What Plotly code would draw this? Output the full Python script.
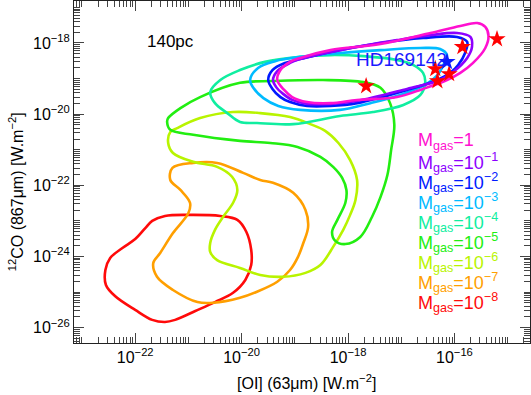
import plotly.graph_objects as go

# log10 of line fluxes [W m^-2] along each contour (x = [OI] 63um, y = 12CO 867um)
oi_m0 = [-19.33, -19.27, -19.09, -18.90, -18.33, -17.39, -16.45, -15.89, -15.57, -15.42, -15.36, -15.42,
         -15.65, -15.89, -16.14, -16.59, -17.08, -17.83, -18.33, -18.77, -19.05, -19.20]
co_m0 = [-19.04, -18.76, -18.53, -18.42, -18.20, -18.03, -17.72, -17.52, -17.44, -17.55, -17.80, -18.14,
         -18.56, -18.84, -19.04, -19.29, -19.52, -19.60, -19.69, -19.66, -19.52, -19.32]

oi_m1 = [-19.41, -19.33, -19.09, -18.90, -18.15, -17.08, -16.45, -15.95, -15.70, -15.67, -15.76, -16.02,
         -16.27, -16.89, -17.83, -18.33, -18.77, -19.05, -19.22, -19.35]
co_m1 = [-19.04, -18.79, -18.56, -18.45, -18.20, -17.92, -17.78, -17.72, -17.83, -18.11, -18.42, -18.81,
         -19.04, -19.29, -19.63, -19.71, -19.71, -19.60, -19.43, -19.24]

oi_m2 = [-19.50, -19.42, -19.18, -18.90, -18.33, -17.39, -16.59, -15.95, -15.76, -15.80, -15.93, -16.08,
         -16.32, -16.89, -17.83, -18.33, -18.77, -19.09, -19.27, -19.42]
co_m2 = [-19.04, -18.76, -18.56, -18.45, -18.25, -18.00, -17.86, -17.83, -17.97, -18.28, -18.62, -18.84,
         -19.04, -19.32, -19.69, -19.77, -19.77, -19.66, -19.52, -19.29]

oi_m3 = [-19.84, -19.69, -19.37, -18.90, -18.15, -17.39, -16.64, -16.27, -16.14, -16.21, -16.32, -16.55,
         -17.02, -17.58, -18.15, -18.90, -19.31, -19.59, -19.78]
co_m3 = [-19.04, -18.70, -18.51, -18.39, -18.28, -18.20, -18.14, -18.17, -18.34, -18.62, -18.90, -19.18,
         -19.46, -19.69, -19.88, -19.88, -19.77, -19.55, -19.26]

oi_m4 = [-20.59, -20.40, -20.03, -19.56, -18.90, -18.33, -17.71, -17.08, -16.77, -16.59, -16.55, -16.64,
         -16.96, -17.53, -18.15, -19.03, -19.71, -20.03, -20.27, -20.50]
co_m4 = [-19.38, -19.04, -18.76, -18.53, -18.39, -18.34, -18.37, -18.48, -18.62, -18.84, -19.12, -19.46,
         -19.74, -19.94, -20.05, -20.28, -20.25, -20.22, -19.97, -19.69]

oi_m5 = [-21.40, -21.34, -20.91, -20.03, -19.46, -18.95, -18.52, -18.28, -18.11, -18.03, -18.05, -18.20,
         -18.30, -18.24, -18.05, -17.77, -17.55, -17.39, -17.26, -17.19, -17.13, -17.21, -17.39, -17.71,
         -18.47, -19.41, -20.03, -20.78, -21.15, -21.38]
co_m5 = [-20.22, -20.44, -20.58, -20.75, -20.81, -20.92, -21.20, -21.48, -21.79, -22.13, -22.49, -22.97,
         -23.31, -23.56, -23.65, -23.45, -22.89, -22.33, -21.71, -21.01, -20.30, -19.69, -19.26, -19.10,
         -19.04, -19.07, -19.12, -19.52, -19.83, -20.11]

oi_m6 = [-21.34, -21.21, -20.78, -20.16, -19.65, -19.09, -18.71, -18.43, -18.18, -17.96, -17.83, -17.86,
         -17.96, -18.09, -18.28, -18.52, -18.80, -19.22, -19.65, -20.03, -20.46, -20.59, -20.59, -20.50,
         -20.35, -20.16, -20.08, -20.18, -20.46, -20.91, -21.29, -21.38]
co_m6 = [-20.50, -20.39, -20.11, -19.94, -19.97, -20.08, -20.28, -20.47, -20.81, -21.29, -21.85, -22.41,
         -22.83, -23.25, -23.73, -24.24, -24.46, -24.57, -24.52, -24.32, -24.10, -23.87, -23.62, -23.25,
         -22.89, -22.49, -22.13, -21.76, -21.48, -21.34, -21.09, -20.81]

oi_m7 = [-21.34, -21.30, -20.91, -20.46, -19.97, -19.65, -19.41, -19.03, -18.80, -18.75, -18.84, -18.94,
         -19.09, -19.33, -19.71, -20.03, -20.53, -20.83, -21.29, -21.59, -21.66, -21.53, -21.29, -21.00,
         -20.97, -21.15]
co_m7 = [-21.85, -21.51, -21.37, -21.37, -21.65, -21.85, -21.93, -22.21, -22.69, -23.17, -23.62, -24.01,
         -24.38, -24.71, -24.99, -25.16, -25.30, -25.28, -24.94, -24.57, -24.18, -23.90, -23.34, -22.78,
         -22.49, -22.13]

oi_m8 = [-21.68, -21.44, -20.97, -20.40, -20.08, -19.91, -19.82, -19.82, -19.93, -20.16, -20.50, -20.87,
         -21.25, -21.44, -21.68, -22.00, -22.38, -22.55, -22.56, -22.47, -22.24, -22.00, -21.81]
co_m8 = [-23.00, -22.86, -22.83, -22.86, -22.97, -23.31, -23.81, -24.24, -24.66, -25.02, -25.28, -25.53,
         -25.78, -25.84, -25.78, -25.50, -25.11, -24.80, -24.38, -24.04, -23.76, -23.51, -23.20]

# model points (red stars) and the observed source (blue star)
star_oi = [-15.20, -15.85, -16.36, -16.10, -16.32, -17.66]
star_co = [-17.89, -18.11, -18.73, -18.87, -19.07, -19.21]
hd_oi = [-16.14]
hd_co = [-18.53]

mgas_labels = ["1", "10<sup>−1</sup>", "10<sup>−2</sup>", "10<sup>−3</sup>", "10<sup>−4</sup>",
               "10<sup>−5</sup>", "10<sup>−6</sup>", "10<sup>−7</sup>", "10<sup>−8</sup>"]
colors = ["#ff10d0", "#8c00ff", "#0019ff", "#00bbff", "#10eea0", "#22ee11", "#b8f400", "#ff9f00", "#ff0a0a"]

x_tick_exp = [-22, -20, -18, -16]
y_tick_exp = [-26, -24, -22, -20, -18]

contours_oi = [oi_m0, oi_m1, oi_m2, oi_m3, oi_m4, oi_m5, oi_m6, oi_m7, oi_m8]
contours_co = [co_m0, co_m1, co_m2, co_m3, co_m4, co_m5, co_m6, co_m7, co_m8]

FONT = "Liberation Sans, Arial, Helvetica, sans-serif"

fig = go.Figure()

# draw from low mass (back) to high mass (front)
for k in reversed(range(9)):
    xs = contours_oi[k] + contours_oi[k][:1]
    ys = contours_co[k] + contours_co[k][:1]
    fig.add_trace(go.Scatter(
        x=[10 ** v for v in xs], y=[10 ** v for v in ys],
        mode="lines", line=dict(color=colors[k], width=2.6, shape="spline", smoothing=1.0),
        showlegend=False, hoverinfo="skip"))

fig.add_trace(go.Scatter(
    x=[10 ** v for v in star_oi], y=[10 ** v for v in star_co], mode="markers",
    marker=dict(symbol="star", size=13, color="#ff0000", line=dict(width=0)), showlegend=False))
fig.add_trace(go.Scatter(
    x=[10 ** v for v in hd_oi], y=[10 ** v for v in hd_co], mode="markers",
    marker=dict(symbol="star", size=13, color="#0a1aff", line=dict(width=0)), showlegend=False))


def minor_vals(lo, hi, majors):
    vals = []
    for d in range(lo, hi):
        for m in range(1, 10):
            if m == 1 and d in majors:
                continue
            vals.append(m * 10.0 ** d)
    return vals


axis_common = dict(
    type="log", showgrid=False, zeroline=False, automargin=False,
    showline=True, linecolor="#222", linewidth=1, mirror="allticks",
    ticks="inside", ticklen=10, tickwidth=1, tickcolor="#444",
    tickfont=dict(family=FONT, size=16, color="black"),
)

fig.update_xaxes(
    **axis_common,
    range=[-23.15, -14.58],
    tickmode="array",
    tickvals=[10.0 ** e for e in x_tick_exp],
    ticktext=[f"10<sup>−{-e}</sup>" for e in x_tick_exp],
    minor=dict(tickmode="array", tickvals=minor_vals(-24, -14, x_tick_exp),
               ticks="inside", ticklen=6, tickcolor="#444"),
)
fig.update_yaxes(
    **axis_common,
    range=[-26.43, -16.82],
    tickmode="array",
    tickvals=[10.0 ** e for e in y_tick_exp],
    ticktext=[f"10<sup>−{-e}</sup>" for e in y_tick_exp],
    minor=dict(tickmode="array", tickvals=minor_vals(-27, -16, y_tick_exp),
               ticks="inside", ticklen=6, tickcolor="#444"),
)

annotations = [
    dict(text="140pc", xref="paper", yref="paper", x=0.155, y=0.915, showarrow=False,
         font=dict(family=FONT, size=17, color="black")),
    dict(text="HD169142", xref="paper", yref="paper", x=0.822, y=0.866, showarrow=False,
         font=dict(family=FONT, size=19, color="#1a1aff")),
    dict(text="[OI] (63μm) [W.m<sup>−2</sup>]", xref="paper", yref="paper", x=0.509, y=-0.114,
         showarrow=False, yanchor="middle", font=dict(family=FONT, size=16, color="black")),
    dict(text="<sup>12</sup>CO (867μm) [W.m<sup>−2</sup>]", xref="paper", yref="paper",
         x=-0.127, y=0.441, textangle=-90, showarrow=False, xanchor="center", yanchor="middle",
         font=dict(family=FONT, size=16, color="black")),
]
for k, lab in enumerate(mgas_labels):
    annotations.append(dict(
        text=f"M<sub>gas</sub>={lab}", xref="paper", yref="paper",
        x=(416 - 74) / 456, y=1 - (142 + 20 * k - 1) / 342,
        xanchor="left", yanchor="middle", showarrow=False,
        font=dict(family=FONT, size=18, color=colors[k])))

fig.update_layout(
    width=531, height=395,
    margin=dict(l=74, r=1, t=1, b=52, autoexpand=False),
    plot_bgcolor="white", paper_bgcolor="white",
    annotations=annotations,
    showlegend=False,
)

# the default page has an 8px body margin; drop it so the figure sits at the window corner
fig.write_html("out.html", config={"displayModeBar": False},
               post_script="document.body.style.margin='0';")
